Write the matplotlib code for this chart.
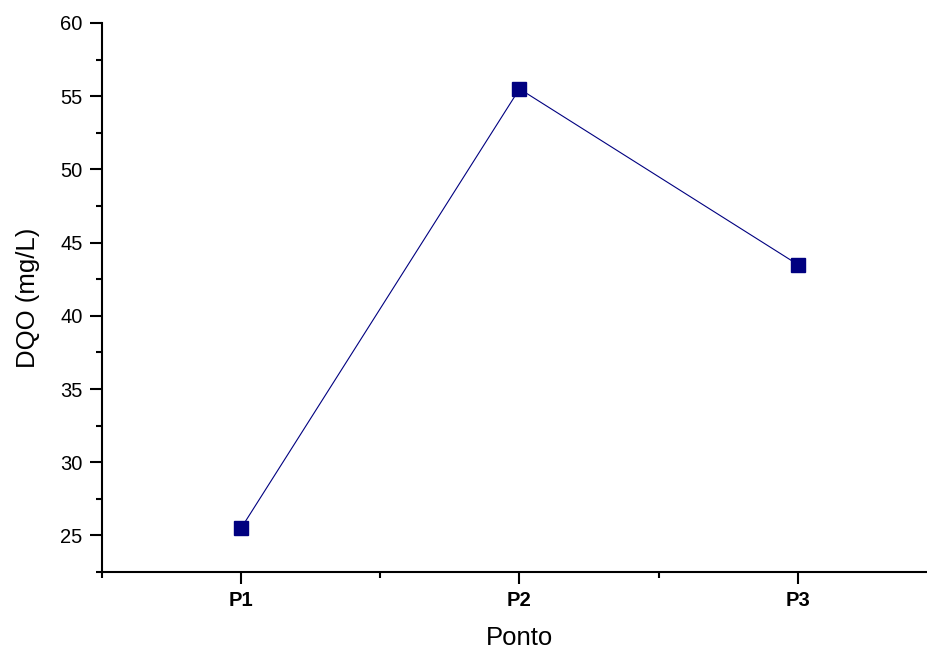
import matplotlib
matplotlib.use("Agg")
import matplotlib.pyplot as plt
from matplotlib.ticker import MultipleLocator

categories = ["P1", "P2", "P3"]
dqo = [25.5, 55.5, 43.5]

plt.rcParams['font.family'] = ['Liberation Sans', 'DejaVu Sans']

fig = plt.figure(figsize=(9.28, 6.5), dpi=100)
ax = fig.add_axes([102/928, 78/650, (937-102)/928, (572-23)/650])

xs = list(range(1, len(categories) + 1))
ax.plot(xs, dqo, color='#000080', linewidth=0.8, marker='s', markersize=9.5,
        markerfacecolor='#000080', markeredgecolor='#000080')

ax.set_xlim(0.5, 3.5)
ax.set_ylim(22.5, 60)
ax.set_xticks(xs)
ax.set_xticklabels(categories, fontweight='bold')
ax.xaxis.set_minor_locator(MultipleLocator(0.5))
ax.yaxis.set_major_locator(MultipleLocator(5))
ax.yaxis.set_minor_locator(MultipleLocator(2.5))

for s in ['top', 'right']:
    ax.spines[s].set_visible(False)
for s in ['left', 'bottom']:
    ax.spines[s].set_linewidth(1.5)

ax.tick_params(axis='both', which='major', direction='out', length=8.5, width=1.5, labelsize=14.5)
ax.tick_params(axis='both', which='minor', direction='out', length=4, width=1.5)
ax.tick_params(axis='y', which='major', pad=5.5)
ax.tick_params(axis='x', which='major', pad=5.5)

ax.set_xlabel("Ponto", fontsize=18.5, labelpad=11.5)
ax.set_ylabel("DQO (mg/L)", fontsize=18.5)
ax.yaxis.set_label_coords((40 - 102) / 835, 0.5)

fig.savefig("out.png", dpi=100)
